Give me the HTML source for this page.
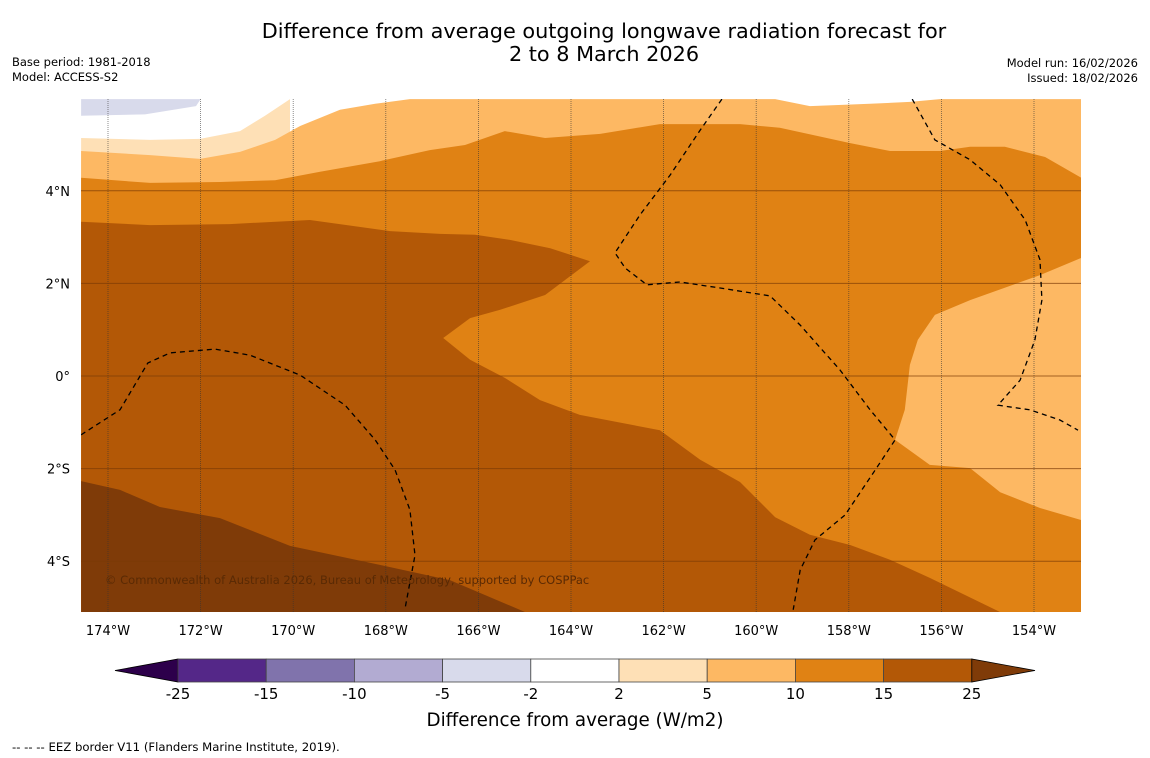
<!DOCTYPE html>
<html><head><meta charset="utf-8"><style>
body{margin:0;background:#fff;width:1150px;height:758px;overflow:hidden;font-family:"DejaVu Sans","Liberation Sans",sans-serif}
svg{position:absolute;left:0;top:0}
</style></head><body>
<svg id="chart" width="1150" height="758" xmlns="http://www.w3.org/2000/svg" font-family="DejaVu Sans, Liberation Sans, sans-serif">
<text x="604" y="38" font-size="20.8" text-anchor="middle">Difference from average outgoing longwave radiation forecast for</text>
<text x="604" y="61" font-size="20.8" text-anchor="middle">2 to 8 March 2026</text>
<text x="12" y="66" font-size="11.5">Base period: 1981-2018</text>
<text x="12" y="81" font-size="11.5">Model: ACCESS-S2</text>
<text x="1138" y="67" font-size="11.5" text-anchor="end">Model run: 16/02/2026</text>
<text x="1138" y="82" font-size="11.5" text-anchor="end">Issued: 18/02/2026</text>
<defs><clipPath id="mapclip"><rect x="81" y="99" width="1000" height="513"/></clipPath></defs>
<g id="map" clip-path="url(#mapclip)"></g>
<g id="axes"></g>
<g id="cbar"></g>
<text x="575" y="726" font-size="18.3" text-anchor="middle">Difference from average (W/m2)</text>
<text x="12" y="751" font-size="11.7">--  --  -- EEZ border V11 (Flanders Marine Institute, 2019).</text>
</svg>
<script>
const lonTicks=[-174,-172,-170,-168,-166,-164,-162,-160,-158,-156,-154];
const latTicks=[4,2,0,-2,-4];
const cbLevels=["-25","-15","-10","-5","-2","2","5","10","15","25"];
const cbColors=["#542788","#8073ac","#b2abd2","#d8daeb","#ffffff","#fee0b6","#fdb863","#e08214","#b35806"];
// contour boundaries [lon,lat]
const lavender=[[-174.58,5.98],[-172.0,5.98],[-172.1,5.83],[-173.2,5.65],[-174.58,5.62]];
const bound2=[[-174.58,5.14],[-173.09,5.10],[-172.01,5.12],[-171.15,5.29],[-170.61,5.62],[-170.07,5.98]];
const bound5=[[-174.58,4.86],[-173.09,4.77],[-172.01,4.69],[-171.15,4.84],[-170.39,5.10],[-169.85,5.40],[-168.99,5.75],[-168.23,5.88],[-167.48,5.98],[-159.59,5.98],[-158.84,5.83],[-157.54,5.88],[-156.68,5.92],[-156.03,5.98],[-152.98,5.98]];
const bound10=[[-174.58,4.28],[-173.09,4.17],[-171.58,4.19],[-170.39,4.23],[-169.42,4.41],[-168.13,4.64],[-167.05,4.88],[-166.29,4.99],[-165.43,5.29],[-164.56,5.14],[-163.37,5.23],[-162.08,5.44],[-160.35,5.44],[-159.49,5.36],[-157.97,5.03],[-157.11,4.86],[-156.03,4.86],[-155.38,4.95],[-154.63,4.95],[-153.76,4.73],[-152.98,4.28]];
const bound15=[[-174.58,3.33],[-173.09,3.26],[-171.37,3.28],[-169.64,3.37],[-167.91,3.13],[-166.83,3.07],[-166.07,3.05],[-165.32,2.94],[-164.45,2.76],[-163.59,2.48],[-164.56,1.75],[-165.53,1.43],[-166.18,1.25],[-166.76,0.82],[-166.18,0.35],[-165.43,-0.04],[-164.67,-0.52],[-163.81,-0.84],[-162.08,-1.17],[-161.21,-1.81],[-160.35,-2.29],[-159.59,-3.05],[-158.84,-3.43],[-157.97,-3.65],[-157.11,-3.97],[-156.25,-4.36],[-154.73,-5.10]];
const right5=[[-152.98,2.55],[-153.87,2.18],[-155.38,1.64],[-156.14,1.32],[-156.51,0.78],[-156.68,0.24],[-156.79,-0.73],[-157.00,-1.38],[-156.25,-1.92],[-155.38,-1.99],[-154.73,-2.51],[-153.87,-2.85],[-152.98,-3.11]];
const bound25=[[-174.58,-2.27],[-173.74,-2.46],[-172.88,-2.83],[-171.58,-3.07],[-170.07,-3.67],[-168.13,-4.08],[-166.61,-4.41],[-164.99,-5.10]];
const eezA=[[-174.58,-1.27],[-173.74,-0.73],[-173.14,0.28],[-172.66,0.50],[-171.69,0.58],[-170.93,0.45],[-169.85,0.02],[-168.88,-0.63],[-168.23,-1.38],[-167.80,-2.03],[-167.48,-2.89],[-167.37,-3.87],[-167.59,-5.05]];
const eezB=[[-160.74,5.98],[-161.21,5.31],[-161.86,4.34],[-162.51,3.48],[-163.05,2.66],[-162.83,2.33],[-162.36,1.97],[-161.65,2.03],[-160.78,1.90],[-159.70,1.73],[-159.05,1.10],[-158.19,0.13],[-157.54,-0.73],[-157.00,-1.38],[-157.43,-2.03],[-158.08,-3.00],[-158.73,-3.54],[-159.05,-4.19],[-159.20,-5.05]];
const eezC=[[-156.63,5.98],[-156.14,5.10],[-155.38,4.67],[-154.73,4.13],[-154.19,3.37],[-153.87,2.51],[-153.83,1.64],[-153.98,0.78],[-154.30,-0.09],[-154.78,-0.63],[-154.09,-0.73],[-153.44,-0.95],[-153.05,-1.17]];

const NS="http://www.w3.org/2000/svg";
const X=lon=>108+(lon+174)*46.3;
const Y=lat=>376-lat*46.3;
const mk=(t,a,p)=>{const e=document.createElementNS(NS,t);for(const k in a)e.setAttribute(k,a[k]);p.appendChild(e);return e;};
const map=document.getElementById('map'),axes=document.getElementById('axes'),cbar=document.getElementById('cbar');
const pts=arr=>arr.map(p=>X(p[0]).toFixed(1)+','+Y(p[1]).toFixed(1));
function below(arr){return pts(arr).concat([X(arr[arr.length-1][0])+',640','1100,640','60,640',X(arr[0][0])+',640']).join(' ');}
let r=mk('rect',{x:81,y:99,width:1000,height:513,fill:'#ffffff'},map);


let p;
p=mk('polygon',{points:pts(lavender).join(' '),fill:'#d8daeb'},map);


p=mk('polygon',{points:below(bound2),fill:'#fee0b6'},map);


p=mk('polygon',{points:below(bound5),fill:'#fdb863'},map);


p=mk('polygon',{points:below(bound10),fill:'#e08214'},map);


p=mk('polygon',{points:pts(bound15).concat([X(-174.58)+','+Y(-5.10)]).join(' '),fill:'#b35806'},map);


p=mk('polygon',{points:pts(right5).join(' '),fill:'#fdb863'},map);


p=mk('polygon',{points:below(bound25),fill:'#7f3b08'},map);


lonTicks.forEach(l=>{
 const x=X(l);
 const g=mk('line',{x1:x,x2:x,y1:99,y2:612,stroke:'#333','stroke-width':0.8,'stroke-dasharray':'1,1','stroke-opacity':0.7},map);
 
 
 const t=mk('text',{x:x,y:635,'font-size':13,'text-anchor':'middle'},axes);
 t.textContent=Math.abs(l)+'°W';
 
 
});
latTicks.forEach(l=>{
 const y=Y(l);
 const g=mk('line',{x1:81,x2:1081,y1:y,y2:y,stroke:'#7a3a05','stroke-width':1,'stroke-opacity':0.7},map);
 
 
 const t=mk('text',{x:70,y:y+5,'font-size':13,'text-anchor':'end'},axes);
 t.textContent=l===0?'0°':Math.abs(l)+'°'+(l>0?'N':'S');
 
 
});
[eezA,eezB,eezC].forEach(a=>{
 const l=mk('polyline',{points:pts(a).join(' '),fill:'none',stroke:'#000','stroke-width':1.3,'stroke-dasharray':'5,4'},map);
 
 
});
const cp=mk('text',{x:105,y:584,'font-size':11.5,fill:'#5a2a04'},map);
cp.textContent='© Commonwealth of Australia 2026, Bureau of Meteorology, supported by COSPPac';


// colorbar
const cx0=178,cw=88.2,cy=659,ch=23;
let tri=mk('polygon',{points:`${cx0},${cy} ${cx0},${cy+ch} 115,${cy+ch/2}`,fill:'#2d004b',stroke:'#000','stroke-width':0.8},cbar);


cbColors.forEach((c,i)=>{
 const b=mk('rect',{x:cx0+i*cw,y:cy,width:cw,height:ch,fill:c,stroke:'#444','stroke-width':0.8},cbar);
 
 
});
const xe=cx0+cbColors.length*cw;
tri=mk('polygon',{points:`${xe},${cy} ${xe},${cy+ch} 1035,${cy+ch/2}`,fill:'#7f3b08',stroke:'#000','stroke-width':0.8},cbar);


cbLevels.forEach((v,i)=>{
 const t=mk('text',{x:cx0+i*cw,y:699,'font-size':15,'text-anchor':'middle'},cbar);
 t.textContent=v;
 
 
});
</script>
</body></html>
